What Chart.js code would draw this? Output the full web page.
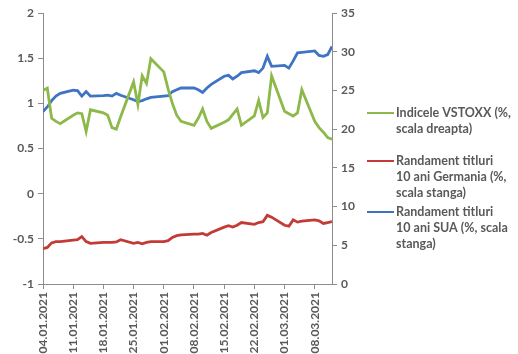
<!DOCTYPE html>
<html>
<head>
<meta charset="utf-8">
<script src="https://cdn.jsdelivr.net/npm/chart.js@4"></script>
<style>
  html, body { margin: 0; padding: 0; background: #fff; }
  #wrap { width: 518px; height: 354px; }
</style>
</head>
<body>
<div id="wrap"><canvas id="yieldChart" width="518" height="354"></canvas></div>
<script>
// saptamanile (luni) - etichete axa X
const saptamani = ['04.01.2021','11.01.2021','18.01.2021','25.01.2021','01.02.2021',
                   '08.02.2021','15.02.2021','22.02.2021','01.03.2021','08.03.2021'];

// valori zilnice, luni-vineri pentru fiecare saptamana
const vstoxx = [
  25.0, 25.3, 21.4, 21.0, 20.7,
  21.8, 22.1, 22.0, 19.7, 22.5,
  22.1, 21.8, 20.2, 20.0, 21.6,
  26.1, 23.2, 26.9, 25.9, 29.1,
  27.4, 25.2, 23.3, 21.8, 21.0,
  20.5, 21.4, 22.6, 21.0, 20.1,
  20.9, 21.2, 21.9, 22.6, 20.5,
  21.7, 23.7, 21.5, 22.1, 26.9,
  22.3, 22.0, 21.7, 22.1, 25.1,
  21.0, 20.2, 19.6, 18.9, 18.7
];
const germania = [
  -0.61, -0.595, -0.545, -0.53, -0.53,
  -0.515, -0.51, -0.475, -0.53, -0.55,
  -0.54, -0.54, -0.54, -0.535, -0.51,
  -0.55, -0.54, -0.555, -0.54, -0.53,
  -0.53, -0.52, -0.485, -0.465, -0.455,
  -0.447, -0.447, -0.44, -0.46, -0.43,
  -0.37, -0.355, -0.37, -0.35, -0.32,
  -0.34, -0.32, -0.31, -0.24, -0.26,
  -0.35, -0.36, -0.29, -0.315, -0.305,
  -0.29, -0.30, -0.33, -0.32, -0.31
];
const sua = [
  0.91, 0.96, 1.03, 1.08, 1.11,
  1.145, 1.14, 1.08, 1.13, 1.08,
  1.085, 1.09, 1.08, 1.11, 1.09,
  1.04, 1.02, 1.03, 1.05, 1.065,
  1.08, 1.085, 1.13, 1.15, 1.17,
  1.17, 1.15, 1.12, 1.17, 1.21,
  1.30, 1.31, 1.27, 1.30, 1.34,
  1.36, 1.34, 1.39, 1.52, 1.41,
  1.42, 1.39, 1.47, 1.56, 1.565,
  1.58, 1.53, 1.52, 1.54, 1.63
];

const etichete = {
  vstoxx: ['Indicele VSTOXX (%,', 'scala dreapta)'],
  germania: ['Randament titluri', '10 ani Germania (%,', 'scala stanga)'],
  sua: ['Randament titluri', '10 ani SUA (%, scala', 'stanga)']
};

const culori = { vstoxx: '#8DB84A', germania: '#C23B36', sua: '#3F73C4' };
const gri = '#595959';
const axa = '#8C8C8C';
const font = { family: 'Lato', size: 12, weight: 'bold' };

// zi calendaristica: saptamana*7 + zi lucratoare
function puncte(valori) {
  return valori.map((v, k) => ({ x: Math.floor(k / 5) * 7 + (k % 5), y: v }));
}

const legendaCustom = {
  id: 'legendaCustom',
  afterDraw(chart) {
    const c = chart.ctx;
    const items = [
      { key: 'vstoxx', y: 113 },
      { key: 'germania', y: 161 },
      { key: 'sua', y: 212 }
    ];
    c.save();
    c.font = 'bold 12.5px Lato';
    c.fillStyle = gri;
    c.textBaseline = 'middle';
    items.forEach(it => {
      c.strokeStyle = culori[it.key];
      c.lineWidth = 2;
      c.beginPath();
      c.moveTo(367, it.y);
      c.lineTo(394, it.y);
      c.stroke();
      etichete[it.key].forEach((t, i) => c.fillText(t, 396, it.y + i * 16));
    });
    c.restore();
  }
};

const ctx = document.getElementById('yieldChart');
new Chart(ctx, {
  type: 'line',
  data: {
    datasets: [
      {
        label: etichete.vstoxx.join(' '),
        data: puncte(vstoxx),
        borderColor: culori.vstoxx,
        yAxisID: 'y1'
      },
      {
        label: etichete.germania.join(' '),
        data: puncte(germania),
        borderColor: culori.germania,
        yAxisID: 'y'
      },
      {
        label: etichete.sua.join(' '),
        data: puncte(sua),
        borderColor: culori.sua,
        yAxisID: 'y'
      }
    ]
  },
  options: {
    responsive: false,
    animation: false,
    layout: { padding: { top: 13, right: 158, left: 0, bottom: 0 } },
    elements: {
      line: { borderWidth: 2.8, tension: 0, fill: false },
      point: { radius: 0 }
    },
    plugins: {
      legend: { display: false },
      tooltip: { enabled: false }
    },
    scales: {
      x: {
        type: 'linear',
        min: 0,
        max: 67,
        afterFit: s => { s.height = 70; },
        afterBuildTicks: s => { s.ticks = saptamani.map((_, i) => ({ value: i * 7 })); },
        ticks: {
          autoSkip: false,
          minRotation: 90,
          maxRotation: 90,
          color: gri,
          font: font,
          padding: 3,
          callback: v => saptamani[v / 7]
        },
        grid: { drawOnChartArea: false, tickLength: 5, color: axa },
        border: { color: axa }
      },
      y: {
        position: 'left',
        min: -1,
        max: 2,
        afterFit: s => { s.width = 43; },
        ticks: { stepSize: 0.5, color: gri, font: font, padding: 4, callback: v => String(v) },
        grid: { drawOnChartArea: false, tickLength: 5, color: axa },
        border: { color: axa }
      },
      y1: {
        position: 'right',
        min: 0,
        max: 35,
        afterFit: s => { s.width = 28; },
        ticks: { stepSize: 5, color: gri, font: font, padding: 4 },
        grid: { drawOnChartArea: false, tickLength: 5, color: axa },
        border: { color: axa }
      }
    }
  },
  plugins: [legendaCustom]
});
</script>
</body>
</html>
